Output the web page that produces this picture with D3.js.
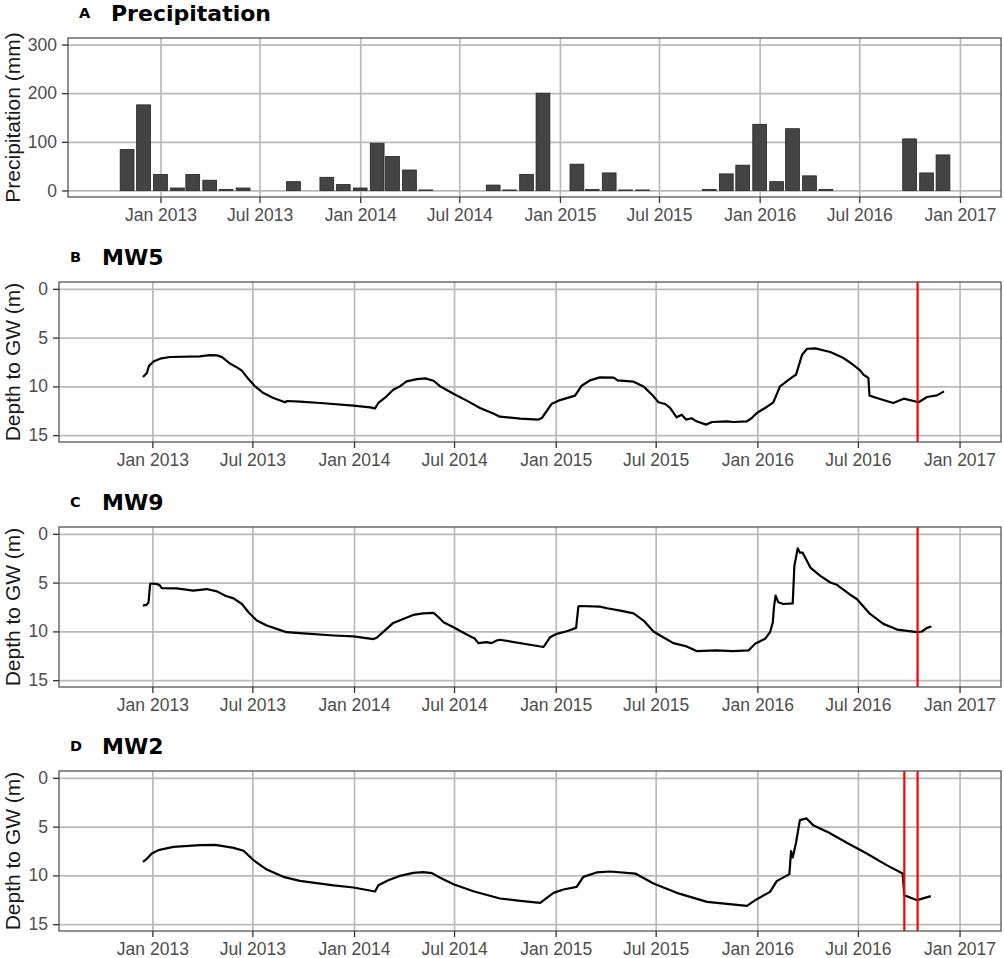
<!DOCTYPE html>
<html>
<head>
<meta charset="utf-8">
<script src="https://cdn.jsdelivr.net/npm/d3@7"></script>
<style>
  body { margin: 0; background: #fff; }
</style>
</head>
<body>
<script>
'use strict'

var w = 1004;
var h = 958;

// monthly precipitation (mm), one bar per month
var precipMonths = [
  "2012-11-01", "2012-12-01", "2013-01-01", "2013-02-01", "2013-03-01", "2013-04-01",
  "2013-05-01", "2013-06-01", "2013-07-01", "2013-08-01", "2013-09-01", "2013-10-01",
  "2013-11-01", "2013-12-01", "2014-01-01", "2014-02-01", "2014-03-01", "2014-04-01",
  "2014-05-01", "2014-06-01", "2014-07-01", "2014-08-01", "2014-09-01", "2014-10-01",
  "2014-11-01", "2014-12-01", "2015-01-01", "2015-02-01", "2015-03-01", "2015-04-01",
  "2015-05-01", "2015-06-01", "2015-07-01", "2015-08-01", "2015-09-01", "2015-10-01",
  "2015-11-01", "2015-12-01", "2016-01-01", "2016-02-01", "2016-03-01", "2016-04-01",
  "2016-05-01", "2016-06-01", "2016-07-01", "2016-08-01", "2016-09-01", "2016-10-01",
  "2016-11-01", "2016-12-01"
];
var precipValues = [
  84, 176, 33, 5, 33, 21,
  2, 5, 0, 0, 18, 0,
  27, 12, 5, 97, 70, 42,
  1, 0, 0, 0, 11, 1,
  33, 200, 0, 54, 2, 36,
  1, 1, 0, 0, 0, 2,
  34, 52, 136, 18, 127, 30,
  2, 0, 0, 0, 0, 106,
  36, 73
];

// depth to groundwater (m)
var mw5Dates = [
  "2012-12-15", "2012-12-22", "2012-12-26", "2013-01-03", "2013-01-15", "2013-02-02",
  "2013-03-28", "2013-04-15", "2013-04-28", "2013-05-07", "2013-05-22", "2013-06-03",
  "2013-06-12", "2013-06-24", "2013-07-06", "2013-07-21", "2013-08-08", "2013-08-29",
  "2013-09-02", "2013-09-25", "2013-11-01", "2013-12-31", "2014-01-30", "2014-02-08",
  "2014-02-14", "2014-03-01", "2014-03-13", "2014-03-25", "2014-04-06", "2014-04-25",
  "2014-05-10", "2014-05-25", "2014-06-06", "2014-06-30", "2014-07-24", "2014-08-17",
  "2014-09-10", "2014-09-22", "2014-10-29", "2014-12-01", "2014-12-07", "2014-12-25",
  "2015-01-06", "2015-02-05", "2015-02-09", "2015-02-17", "2015-03-04", "2015-03-22",
  "2015-04-16", "2015-04-23", "2015-05-22", "2015-06-09", "2015-06-27", "2015-07-06",
  "2015-07-18", "2015-07-27", "2015-08-08", "2015-08-17", "2015-08-25", "2015-09-04",
  "2015-09-13", "2015-09-30", "2015-10-11", "2015-11-07", "2015-11-19", "2015-12-13",
  "2015-12-22", "2015-12-31", "2016-01-18", "2016-01-30", "2016-02-11", "2016-03-06",
  "2016-03-11", "2016-03-22", "2016-03-31", "2016-04-15", "2016-05-12", "2016-06-05",
  "2016-06-20", "2016-07-05", "2016-07-11", "2016-07-20", "2016-07-22", "2016-08-10",
  "2016-09-03", "2016-09-22", "2016-10-19", "2016-11-03", "2016-11-21", "2016-12-04"
];
var mw5Depth = [
  9.04, 8.63, 7.88, 7.44, 7.16, 6.99,
  6.93, 6.79, 6.82, 7.0, 7.68, 8.05,
  8.39, 9.25, 10.0, 10.68, 11.19, 11.63,
  11.5, 11.57, 11.7, 11.98, 12.15, 12.25,
  11.7, 11.02, 10.34, 10.0, 9.49, 9.25,
  9.18, 9.42, 10.0, 10.75, 11.46, 12.21,
  12.79, 13.1, 13.3, 13.4, 13.24, 11.77,
  11.46, 10.95, 10.61, 9.93, 9.38, 9.08,
  9.11, 9.38, 9.52, 10.0, 11.02, 11.63,
  11.8, 12.21, 13.17, 12.9, 13.4, 13.27,
  13.58, 13.92, 13.65, 13.58, 13.65, 13.58,
  13.24, 12.73, 12.11, 11.63, 10.0, 8.97,
  8.8, 6.76, 6.14, 6.11, 6.48, 7.1,
  7.68, 8.36, 8.8, 9.14, 10.95, 11.29,
  11.7, 11.26, 11.63, 11.09, 10.92, 10.51
];

var mw9Dates = [
  "2012-12-15", "2012-12-22", "2012-12-25", "2012-12-28", "2012-12-31", "2013-01-09",
  "2013-01-14", "2013-01-18", "2013-02-14", "2013-03-16", "2013-04-09", "2013-04-28",
  "2013-05-13", "2013-05-28", "2013-06-12", "2013-06-24", "2013-07-09", "2013-07-27",
  "2013-08-14", "2013-09-01", "2013-09-25", "2013-11-25", "2013-12-31", "2014-02-05",
  "2014-02-11", "2014-03-01", "2014-03-13", "2014-03-31", "2014-04-18", "2014-05-06",
  "2014-05-25", "2014-06-03", "2014-06-12", "2014-06-30", "2014-07-24", "2014-08-08",
  "2014-08-14", "2014-08-29", "2014-09-07", "2014-09-16", "2014-09-22", "2014-12-10",
  "2014-12-22", "2015-01-03", "2015-01-21", "2015-02-07", "2015-02-11", "2015-02-14",
  "2015-03-22", "2015-04-04", "2015-04-28", "2015-05-22", "2015-06-09", "2015-06-27",
  "2015-07-09", "2015-08-02", "2015-08-26", "2015-09-13", "2015-10-19", "2015-11-18",
  "2015-12-16", "2015-12-28", "2016-01-15", "2016-01-24", "2016-01-29", "2016-01-31",
  "2016-02-03", "2016-02-08", "2016-02-17", "2016-03-05", "2016-03-08", "2016-03-14",
  "2016-03-18", "2016-03-23", "2016-04-06", "2016-04-24", "2016-05-12", "2016-05-24",
  "2016-06-17", "2016-06-29", "2016-07-23", "2016-08-16", "2016-09-10", "2016-10-16",
  "2016-10-25", "2016-11-03", "2016-11-11"
];
var mw9Depth = [
  7.36, 7.26, 7.02, 5.15, 5.09, 5.15,
  5.26, 5.56, 5.6, 5.83, 5.66, 5.9,
  6.34, 6.62, 7.19, 8.04, 8.89, 9.4,
  9.74, 10.08, 10.18, 10.42, 10.52, 10.79,
  10.65, 9.74, 9.13, 8.72, 8.31, 8.15,
  8.11, 8.55, 9.06, 9.57, 10.32, 10.76,
  11.2, 11.1, 11.2, 10.93, 10.86, 11.6,
  10.59, 10.25, 9.98, 9.64, 7.46, 7.4,
  7.46, 7.63, 7.87, 8.15, 8.89, 10.01,
  10.42, 11.2, 11.54, 12.02, 11.95, 12.02,
  11.95, 11.27, 10.76, 10.08, 9.06, 7.54,
  6.34, 7.02, 7.19, 7.13, 3.29, 1.49,
  1.93, 1.93, 3.46, 4.31, 4.99, 5.22,
  6.24, 6.68, 8.21, 9.23, 9.81, 10.08,
  10.01, 9.64, 9.5
];

var mw2Dates = [
  "2012-12-15", "2012-12-22", "2012-12-31", "2013-01-12", "2013-02-08", "2013-03-28",
  "2013-04-25", "2013-05-28", "2013-06-15", "2013-07-03", "2013-07-27", "2013-08-26",
  "2013-09-25", "2013-11-25", "2013-12-31", "2014-02-08", "2014-02-14", "2014-03-04",
  "2014-03-25", "2014-04-18", "2014-05-06", "2014-05-22", "2014-06-06", "2014-06-30",
  "2014-08-05", "2014-09-22", "2014-10-29", "2014-12-04", "2014-12-28", "2015-01-15",
  "2015-02-08", "2015-02-20", "2015-03-16", "2015-04-10", "2015-05-25", "2015-06-27",
  "2015-08-08", "2015-10-02", "2015-12-13", "2015-12-31", "2016-01-24", "2016-02-05",
  "2016-02-28", "2016-03-02", "2016-03-05", "2016-03-11", "2016-03-18", "2016-03-30",
  "2016-04-11", "2016-05-09", "2016-06-11", "2016-07-17", "2016-08-22", "2016-09-20",
  "2016-09-23", "2016-10-16", "2016-11-10"
];
var mw2Depth = [
  8.61, 8.3, 7.75, 7.41, 7.07, 6.9,
  6.87, 7.18, 7.48, 8.44, 9.4, 10.15,
  10.56, 11.03, 11.24, 11.65, 11.0, 10.49,
  10.05, 9.74, 9.67, 9.77, 10.25, 10.9,
  11.62, 12.37, 12.61, 12.82, 11.79, 11.45,
  11.18, 10.15, 9.7, 9.6, 9.81, 10.83,
  11.79, 12.71, 13.12, 12.44, 11.69, 10.59,
  9.87, 7.52, 8.16, 6.66, 4.34, 4.16,
  4.85, 5.6, 6.66, 7.75, 8.95, 9.8,
  12.03, 12.54, 12.13
];

// red vertical markers
var mw5Marks = ["2016-10-17"];
var mw9Marks = ["2016-10-17"];
var mw2Marks = ["2016-09-23", "2016-10-17"];

// axis ticks
var xTickDates = ["2013-01-01", "2013-07-01", "2014-01-01", "2014-07-01", "2015-01-01",
  "2015-07-01", "2016-01-01", "2016-07-01", "2017-01-01"];
var xTickLabels = ["Jan 2013", "Jul 2013", "Jan 2014", "Jul 2014", "Jan 2015",
  "Jul 2015", "Jan 2016", "Jul 2016", "Jan 2017"];
var precipTicks = [0, 100, 200, 300];
var depthTicks = [0, 5, 10, 15];

var parseDate = d3.timeParse("%Y-%m-%d");
var xStart = parseDate("2012-07-16");
var xEnd = parseDate("2017-03-17");
var plotRight = 1001;
var tickFont = "'Liberation Sans', Arial, sans-serif";
var titleFont = "'DejaVu Sans', sans-serif";

var svg = d3.select("body")
  .append("svg")
  .attr("width", w)
  .attr("height", h);

function drawPanel(p) {
  var bottom = p.top + p.height;
  var x = d3.scaleTime()
    .domain([xStart, xEnd])
    .range([p.left, plotRight]);
  var y = d3.scaleLinear()
    .domain(p.yDomain)
    .range(p.flip ? [p.top, bottom] : [bottom, p.top]);

  var g = svg.append("g").attr("class", "panel");

  // grid
  var gx = g.append("g")
    .attr("transform", "translate(0," + bottom + ")")
    .call(d3.axisBottom(x).tickValues(xTickDates.map(parseDate)).tickSize(-p.height).tickFormat(""));
  var gy = g.append("g")
    .attr("transform", "translate(" + p.left + ",0)")
    .call(d3.axisLeft(y).tickValues(p.yTicks).tickSize(-(plotRight - p.left)).tickFormat(""));
  [gx, gy].forEach(function(s) {
    s.select(".domain").remove();
    s.selectAll("line").attr("stroke", "#bababa").attr("stroke-width", 1.7);
  });

  p.draw(g, x, y);

  // panel border
  g.append("rect")
    .attr("x", p.left)
    .attr("y", p.top)
    .attr("width", plotRight - p.left)
    .attr("height", p.height)
    .attr("fill", "none")
    .attr("stroke", "#555")
    .attr("stroke-width", 1.3);

  // axes
  var ax = g.append("g")
    .attr("transform", "translate(0," + bottom + ")")
    .call(d3.axisBottom(x)
      .tickValues(xTickDates.map(parseDate))
      .tickSize(6)
      .tickPadding(6)
      .tickFormat(function(d, i) { return xTickLabels[i]; }));
  var ay = g.append("g")
    .attr("transform", "translate(" + p.left + ",0)")
    .call(d3.axisLeft(y).tickValues(p.yTicks).tickSize(6).tickPadding(5));
  [ax, ay].forEach(function(s) {
    s.select(".domain").remove();
    s.selectAll("line").attr("stroke", "#333").attr("stroke-width", 1.3);
    s.selectAll("text")
      .attr("fill", "#4d4d4d")
      .style("font-family", tickFont)
      .style("font-size", "17.5px");
  });

  // y axis title
  g.append("text")
    .attr("transform", "translate(20," + (p.top + p.height / 2) + ") rotate(-90)")
    .attr("text-anchor", "middle")
    .attr("fill", "#1a1a1a")
    .style("font-family", tickFont)
    .style("font-size", "21px")
    .text(p.yLabel);

  // panel letter and title
  g.append("text")
    .attr("x", p.left + 11)
    .attr("y", p.top - 20.5)
    .attr("fill", "#000")
    .style("font-family", titleFont)
    .style("font-weight", "bold")
    .style("font-size", "14.5px")
    .text(p.letter);
  g.append("text")
    .attr("x", p.left + 43)
    .attr("y", p.top - 17)
    .attr("fill", "#000")
    .style("font-family", titleFont)
    .style("font-weight", "bold")
    .style("font-size", "22px")
    .text(p.title);
}

function drawBars(g, x, y) {
  var rows = precipMonths.map(function(m, i) {
    return { date: parseDate(m), value: precipValues[i] };
  }).filter(function(d) { return d.value > 0; });
  var half = 12.6 * 864e5;

  g.selectAll("rect.bar")
    .data(rows)
    .enter()
    .append("rect")
    .attr("class", "bar")
    .attr("x", function(d) { return x(new Date(+d.date - half)); })
    .attr("width", function(d) { return x(new Date(+d.date + half)) - x(new Date(+d.date - half)); })
    .attr("y", function(d) { return y(d.value); })
    .attr("height", function(d) { return y(0) - y(d.value); })
    .attr("fill", "#444")
    .attr("stroke", "#222")
    .attr("stroke-width", 0.8);
}

function depthDrawer(dates, depth, marks) {
  return function(g, x, y) {
    var pts = dates.map(function(d, i) { return [parseDate(d), depth[i]]; });
    var line = d3.line()
      .x(function(d) { return x(d[0]); })
      .y(function(d) { return y(d[1]); });

    g.append("path")
      .datum(pts)
      .attr("d", line)
      .attr("fill", "none")
      .attr("stroke", "#000")
      .attr("stroke-width", 2.2)
      .attr("stroke-linejoin", "round");

    g.selectAll("line.mark")
      .data(marks.map(parseDate))
      .enter()
      .append("line")
      .attr("class", "mark")
      .attr("x1", function(d) { return x(d); })
      .attr("x2", function(d) { return x(d); })
      .attr("y1", y.range()[0])
      .attr("y2", y.range()[1])
      .attr("stroke", "#ff0000")
      .attr("stroke-width", 2.2);
  };
}

drawPanel({
  letter: "A", title: "Precipitation", yLabel: "Precipitation (mm)",
  left: 68, top: 38, height: 159,
  yDomain: [-13.5, 313.5], yTicks: precipTicks, flip: false,
  draw: drawBars
});
drawPanel({
  letter: "B", title: "MW5", yLabel: "Depth to GW (m)",
  left: 59, top: 282, height: 160,
  yDomain: [-0.7, 15.7], yTicks: depthTicks, flip: true,
  draw: depthDrawer(mw5Dates, mw5Depth, mw5Marks)
});
drawPanel({
  letter: "C", title: "MW9", yLabel: "Depth to GW (m)",
  left: 59, top: 527, height: 160,
  yDomain: [-0.7, 15.7], yTicks: depthTicks, flip: true,
  draw: depthDrawer(mw9Dates, mw9Depth, mw9Marks)
});
drawPanel({
  letter: "D", title: "MW2", yLabel: "Depth to GW (m)",
  left: 59, top: 771, height: 160,
  yDomain: [-0.7, 15.7], yTicks: depthTicks, flip: true,
  draw: depthDrawer(mw2Dates, mw2Depth, mw2Marks)
});
</script>
</body>
</html>
